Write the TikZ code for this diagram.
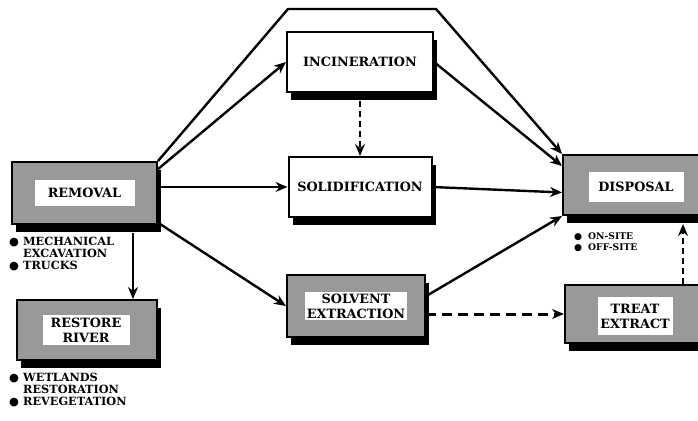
\documentclass[tikz,border=0pt]{standalone}
\usepackage{fontspec}
\setmainfont{DejaVu Serif}
\newfontfamily\symfont{DejaVu Sans}
\usetikzlibrary{arrows.meta,shadows,calc,positioning}

\newcommand{\labfont}{\fontsize{12.8}{15}\selectfont\bfseries}
\newcommand{\notefont}{\fontsize{11.3}{11.8}\selectfont\bfseries}
\newcommand{\smallnotefont}{\fontsize{9.2}{11.5}\selectfont\bfseries}
\newcommand{\blt}{\makebox[14pt][l]{\symfont ●}}
\newcommand{\noblt}{\hspace*{14pt}}

\tikzset{
  box/.style={draw, line width=2pt, minimum width=145pt, minimum height=60pt,
    drop shadow={fill=black, opacity=1, shadow xshift=4pt, shadow yshift=-8pt}},
  plainbox/.style={box, fill=white, font=\labfont},
  shadebox/.style={box, fill=black!40},
  inbox/.style={fill=white, inner sep=2pt, align=center, font=\labfont},
  flow/.style={line width=2.4pt, -{Stealth[length=12pt,width=10pt]}},
  maybe/.style={flow, dash pattern=on 6pt off 4pt},
  notes/.style={align=left, anchor=north west, font=\notefont, inner sep=0pt}
}

\begin{document}
\begin{tikzpicture}[x=1pt,y=-1pt]
  \clip (0,0) rectangle (698,420);

  % Boxes
  \node[shadebox, minimum height=62pt] (removal) at (84.5,193) {};
  \node[inbox, minimum width=100pt, minimum height=26pt] (removal-txt) at (removal) {REMOVAL};

  \node[plainbox, minimum width=146pt] (incin) at (360,62) {INCINERATION};
  \node[plainbox, minimum width=143pt] (solid) at (360,187) {SOLIDIFICATION};

  \node[shadebox, minimum width=138pt, minimum height=62pt] (solvent) at (356,306) {};
  \node[inbox, minimum width=85pt] (solvent-txt) at (solvent) {SOLVENT\\EXTRACTION};

  \node[shadebox, minimum width=140pt] (disposal) at (633,185) {};
  \node[inbox, minimum width=95pt, minimum height=30pt] (disposal-txt) at (636,187) {DISPOSAL};

  \node[shadebox, minimum width=140pt, minimum height=58pt] (treat) at (635,314) {};
  \node[inbox, minimum width=75pt, minimum height=38pt] (treat-txt) at (635,316) {TREAT\\EXTRACT};

  \node[shadebox, minimum width=140pt] (restore) at (87,330) {};
  \node[inbox, minimum width=87pt, minimum height=30pt] (restore-txt) at (86,330) {RESTORE\\RIVER};

  % Notes
  \node[notes] (removal-notes) at (9,237) {\blt MECHANICAL\\\noblt EXCAVATION\\\blt TRUCKS};
  \node[notes] (restore-notes) at (9,373) {\blt WETLANDS\\\noblt RESTORATION\\\blt REVEGETATION};
  \node[notes, font=\smallnotefont] (disposal-notes) at (574,232) {\blt ON-SITE\\\blt OFF-SITE};

  % Flows
  \coordinate (peak-l) at (288,9);
  \coordinate (peak-r) at (436,9);
  \draw[flow] (removal.north east) -- (peak-l) -- (peak-r) -- (disposal.north west);
  \draw[flow] (removal.18) -- (incin.west);
  \draw[flow] (removal.east |- solid.west) -- (solid.west);
  \draw[flow] (removal.-22) -- (solvent.west);
  \draw[flow] ($(removal.south)+(48.5,8)$) -- ($(restore.north)+(46,0)$);

  \draw[flow] (incin.east) -- (disposal.165);
  \draw[flow] (solid.east) -- (disposal.186);
  \draw[flow] (solvent.8) -- (disposal.south west);

  % Optional routes
  \draw[maybe] ($(incin.south)+(0,8)$) -- (solid.north);
  \draw[maybe, line width=3pt, dash pattern=on 10pt off 6pt] (solvent.east |- treat.west) -- (treat.west);
  \draw[maybe] ($(treat.north east)+(-23,0)$) -- ($(treat.north east |- disposal.south)+(-23,8)$);
\end{tikzpicture}
\end{document}
